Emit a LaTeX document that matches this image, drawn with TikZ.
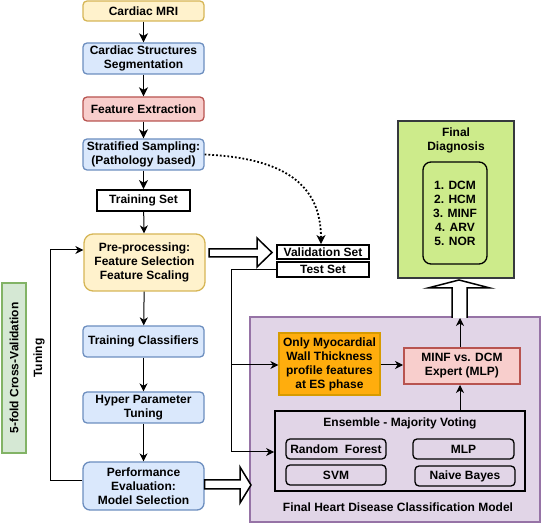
\documentclass[tikz,border=0pt]{standalone}
\usepackage{fontspec}
\setmainfont{Liberation Sans}
\usetikzlibrary{arrows.meta,calc}
\definecolor{yfill}{HTML}{FFF2CC}\definecolor{ydraw}{HTML}{D6B656}
\definecolor{bfill}{HTML}{DAE8FC}\definecolor{bdraw}{HTML}{6C8EBF}
\definecolor{rfill}{HTML}{F8CECC}\definecolor{rdraw}{HTML}{B85450}
\definecolor{gfill}{HTML}{D5E8D4}\definecolor{gdraw}{HTML}{82B366}
\definecolor{pfill}{HTML}{E1D5E7}\definecolor{pdraw}{HTML}{9673A6}
\definecolor{ofill}{HTML}{FFAD0D}\definecolor{odraw}{HTML}{D79B00}
\definecolor{lfill}{HTML}{CDEB8B}\definecolor{ldraw}{HTML}{36393D}
\begin{document}
\begin{tikzpicture}[x=1pt,y=-1pt,
  every node/.style={font=\fontsize{12}{14}\selectfont\bfseries,align=center,inner sep=0pt},
  bx/.style={draw,line width=1.3pt,rounded corners=4pt},
  ybox/.style={bx,fill=yfill,draw=ydraw},
  bbox/.style={bx,fill=bfill,draw=bdraw},
  rbox/.style={bx,fill=rfill,draw=rdraw},
  setbox/.style={draw=black,line width=1.8pt,fill=white},
  algo/.style={draw=black,line width=1.3pt,rounded corners=4pt},
  thick arr/.style={line width=1.8pt,-{Stealth[length=9pt,width=9pt,inset=2.5pt]}},
  thin arr/.style={line width=1pt,-{Stealth[length=8pt,width=8pt,inset=2.5pt]}},
  hollow/.style={draw=black,line width=1.5pt,fill=white,line join=miter}]
\useasboundingbox (0,0) rectangle (542,524);

% left column
\node[ybox,minimum width=121,minimum height=20] (mri) at (143.5,11) {Cardiac MRI};
\node[bbox,minimum width=121,minimum height=31] (seg) at (143.5,58.5) {Cardiac Structures\\Segmentation};
\node[rbox,minimum width=121,minimum height=24] (fe) at (143.5,109) {Feature Extraction};
\node[bbox,minimum width=121,minimum height=31] (strat) at (143.5,154.5) {Stratified Sampling:\\(Pathology based)};
\node[setbox,minimum width=93,minimum height=21] (train) at (143.5,200.5) {Training Set};
\node[ybox,rounded corners=9pt,minimum width=121,minimum height=57] (pre) at (144.5,262.5) {Pre-processing:\\Feature Selection\\Feature Scaling};
\node[bbox,minimum width=121,minimum height=31] (tc) at (143.5,341.5) {Training Classifiers};
\node[bbox,minimum width=121,minimum height=31] (hpt) at (143.5,407.5) {Hyper Parameter\\Tuning};
\node[bbox,rounded corners=7pt,minimum width=121,minimum height=48] (pe) at (143.5,486) {Performance\\Evaluation:\\Model Selection};

\node[draw=gdraw,fill=gfill,line width=1.3pt,rotate=90,minimum width=170,minimum height=24] (cv) at (14,368) {5-fold Cross-Validation};
\node[rotate=90] (tun) at (39,358) {Tuning};

\draw[thick arr] (mri) -- (seg);
\draw[thick arr] (seg) -- (fe);
\draw[thick arr] (fe) -- (strat);
\draw[thick arr] (strat) -- (train);
\draw[thin arr] (train) -- (pre);
\draw[thin arr] (pre) -- (tc);
\draw[thin arr] (tc) -- (hpt);
\draw[thin arr] (hpt) -- (pe);
\coordinate (lpA) at (50,481);
\coordinate (lpB) at (50,250);
\draw[thin arr] (pe.west |- lpA) -- (lpA) -- (lpB) -- (pre.west |- lpB);

% sets
\node[setbox,minimum width=92,minimum height=14] (val) at (323,252) {Validation Set};
\node[setbox,minimum width=92,minimum height=15] (test) at (323,269.5) {Test Set};
\draw[line width=1.8pt,dotted,-{Stealth[length=9pt,width=9pt,inset=2.5pt]}] (strat.east) .. controls (285,158) and (321,185) .. (val.north -| 321,0);

% hollow arrow pre -> val
\draw[hollow] (209,249) -- (257,249) -- (257,238) -- (272,252.5) -- (257,267) -- (257,257) -- (209,257) -- cycle;

% final model
\node[draw=pdraw,fill=pfill,line width=2pt,minimum width=290,minimum height=205] (fm) at (395,419.5) {};
\node[draw=odraw,fill=ofill,line width=1.3pt,minimum width=101,minimum height=62] (myo) at (329.5,364) {Only Myocardial\\Wall Thickness\\profile features\\at ES phase};
\node[rbox,rounded corners=0pt,line width=2pt,minimum width=116,minimum height=36] (minf) at (462,366) {MINF vs. DCM\\Expert (MLP)};
\node[draw=black,line width=1.8pt,minimum width=250,minimum height=80] (ens) at (400,451) {};
\node (enst) at (400,423) {Ensemble - Majority Voting};
\node[algo,minimum width=100,minimum height=20] (rf) at (336,449) {Random\ \ Forest};
\node[algo,minimum width=101,minimum height=20] (mlp) at (463.5,449) {MLP};
\node[algo,minimum width=100,minimum height=20] (svm) at (336,475) {SVM};
\node[algo,minimum width=100,minimum height=20] (nb) at (465,476) {Naive Bayes};
\node (fmt) at (398,507) {Final Heart Disease Classification Model};

% final diagnosis
\node[draw=ldraw,fill=lfill,line width=2pt,minimum width=116,minimum height=157] (fd) at (456,199.5) {};
\node (fdt) at (456,140) {Final\\Diagnosis};
\node[draw=black,line width=1.3pt,rounded corners=8pt,minimum width=64,minimum height=102] (lst) at (455,213) {1. DCM\\2. HCM\\3. MINF\\4. ARV\\5. NOR};

% connectors to model
\coordinate (tA) at (231,269.5);
\coordinate (tB) at (231,452);
\draw[thin arr] (test.west) -- (tA) -- (tB) -- (ens.west |- tB);
\draw[thin arr] (231,365) -- (myo.west |- 0,365);
\draw[thin arr] (myo.east |- 0,365) -- (minf.west |- 0,365);
\draw[thin arr] (ens.north -| 460,0) -- (minf.south -| 460,0);

% hollow arrow pe -> model
\draw[hollow] (pe.east |- 0,480) -- (240,480) -- (240,467) -- (251,485) -- (240,503) -- (240,489) -- (pe.east |- 0,489) -- cycle;

% hollow arrow model -> diagnosis
\draw[hollow] (452,318) -- (452,288) -- (428,288) -- (459,280) -- (490,288) -- (467,288) -- (467,318);
\draw[thin arr] (minf.north -| 460,0) -- (460,318);
\end{tikzpicture}
\end{document}
